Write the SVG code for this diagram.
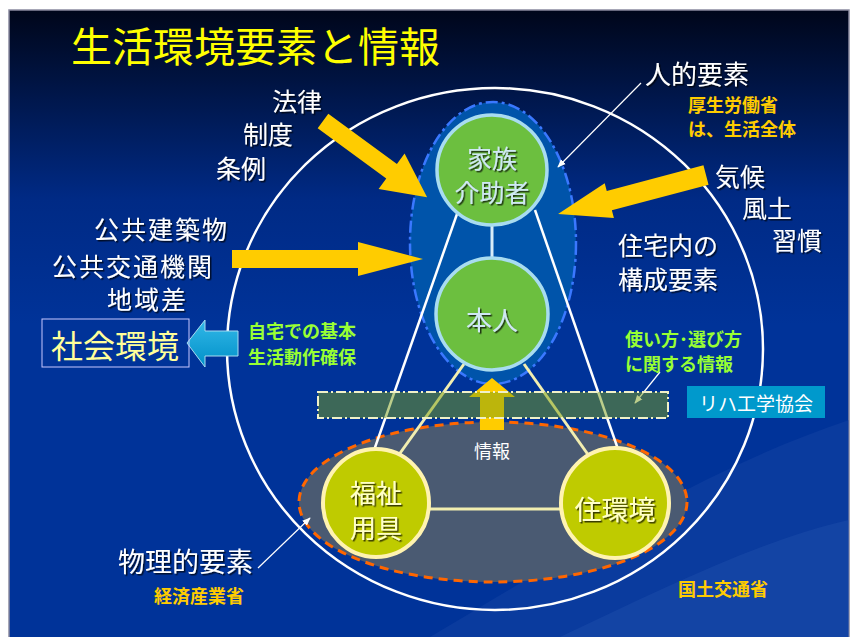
<svg xmlns="http://www.w3.org/2000/svg" width="851" height="637" viewBox="0 0 851 637">
<defs>
<linearGradient id="bg" x1="0" y1="0" x2="0" y2="1">
<stop offset="0" stop-color="#00061a"/>
<stop offset="0.3" stop-color="#002a85"/>
<stop offset="0.5" stop-color="#003399"/>
<stop offset="1" stop-color="#003399"/>
</linearGradient>
<linearGradient id="blueArrow" x1="0" y1="0" x2="0" y2="1">
<stop offset="0" stop-color="#33b8e8"/>
<stop offset="1" stop-color="#0090c8"/>
</linearGradient>
<filter id="sh" x="-20%" y="-20%" width="140%" height="140%">
<feDropShadow dx="1.5" dy="1.5" stdDeviation="0.6" flood-color="#000000" flood-opacity="0.7"/>
</filter>
<marker id="thin" viewBox="0 0 10 10" refX="9" refY="5" markerWidth="7" markerHeight="7" orient="auto">
<path d="M0,1 L10,5 L0,9 Z" fill="#ffffff"/>
</marker>
<style>
text{font-family:"Noto Sans CJK JP","Noto Sans CJK SC",sans-serif;dominant-baseline:central}
.w{fill:#ffffff;font-size:25px}
.g{fill:#99ff33;font-size:18px;font-weight:bold}
.o{fill:#ffcc00;font-size:18px;font-weight:bold}
.ya{fill:#ffcc00}
.wl{stroke:#ffffff;stroke-width:2.5;fill:none}
.bl{stroke:#d8ecf8;stroke-width:3;fill:none}
.pl{stroke:#f2eeb0;stroke-width:3;fill:none}
.ptr{stroke:#ffffff;stroke-width:1.2;fill:none;marker-end:url(#thin)}
</style>
</defs>

<rect x="0" y="0" width="851" height="637" fill="#ffffff"/>
<rect x="9" y="10" width="840" height="630" fill="url(#bg)" stroke="#8a8aa0" stroke-width="1.5"/>
<path d="M430,637 C560,560 700,470 849,420 L849,637 Z" fill="#1e4aa8" opacity="0.35"/>
<path d="M560,637 C660,590 760,540 849,520 L849,637 Z" fill="#2a58b4" opacity="0.3"/>

<text x="71" y="44" style="fill:#ffff00;font-size:41px">生活環境要素と情報</text>

<g id="outer-circle"><ellipse cx="495" cy="349" rx="268" ry="261" fill="none" stroke="#ffffff" stroke-width="2.5"/></g>

<g id="physical-area"><ellipse cx="493" cy="502" rx="194" ry="80" fill="#4a5a72" stroke="#ff6600" stroke-width="3" stroke-dasharray="9,6"/></g>
<g id="human-area"><ellipse cx="493" cy="243" rx="83" ry="141" fill="#0054aa" stroke="#3a78ff" stroke-width="2.5" stroke-dasharray="12,4,3,4"/></g>

<g id="connectors">
<line class="bl" x1="492" y1="225" x2="492" y2="258"/>
<line class="wl" x1="457" y1="214" x2="372" y2="456"/>
<line class="wl" x1="535" y1="210" x2="620" y2="455"/>
<line class="pl" x1="464" y1="364" x2="398" y2="456"/>
<line class="pl" x1="524" y1="364" x2="589" y2="456"/>
<line class="pl" x1="430" y1="509" x2="560" y2="509"/>
<line class="ptr" x1="641" y1="83" x2="558" y2="167"/>
<line class="ptr" x1="660" y1="372" x2="635" y2="403"/>
<line class="ptr" x1="258" y1="568" x2="310" y2="518"/>
</g>

<g id="kazoku">
<circle cx="492" cy="170" r="55" fill="#6cbf3f" stroke="#a8dcf0" stroke-width="3.5"/>
<text x="492" y="157" text-anchor="middle" filter="url(#sh)" style="fill:#cfe8f4;font-size:25px">家族</text>
<text x="492" y="191" text-anchor="middle" filter="url(#sh)" style="fill:#cfe8f4;font-size:25px">介助者</text>
</g>
<g id="honnin">
<circle cx="492" cy="314" r="56" fill="#6cbf3f" stroke="#a8dcf0" stroke-width="3.5"/>
<text x="492" y="318" text-anchor="middle" filter="url(#sh)" style="fill:#cfe8f4;font-size:26px">本人</text>
</g>
<g id="fukushi">
<ellipse cx="376" cy="503" rx="53" ry="54" fill="#bfcb00" stroke="#fff3b0" stroke-width="4"/>
<text x="376" y="491" text-anchor="middle" filter="url(#sh)" style="fill:#ffffc8;font-size:26px">福祉</text>
<text x="376" y="526" text-anchor="middle" filter="url(#sh)" style="fill:#ffffc8;font-size:26px">用具</text>
</g>
<g id="jukankyo">
<ellipse cx="615" cy="503" rx="54" ry="55" fill="#bfcb00" stroke="#fff3b0" stroke-width="4"/>
<text x="615" y="508" text-anchor="middle" filter="url(#sh)" style="fill:#ffffc8;font-size:27px">住環境</text>
</g>

<g id="info-arrow">
<polygon class="ya" points="492,378 469,397 480,397 480,430 504,430 504,397 515,397"/>
</g>
<g id="band">
<rect x="318" y="392" width="350" height="26" fill="#7a9d17" fill-opacity="0.5" stroke="#f0f0c8" stroke-width="2" stroke-dasharray="10,3,2,3"/>
</g>
<text x="492" y="450" text-anchor="middle" style="fill:#ffffff;font-size:18px">情報</text>

<g id="riha">
<rect x="687" y="386" width="138" height="32" fill="#0099cc"/>
<text x="756" y="402" text-anchor="middle" style="fill:#ffffff;font-size:19px">リハ工学協会</text>
</g>

<g id="law">
<polygon class="ya" transform="translate(323,121) rotate(36.2)" points="0,-9 85,-9 85,-22 129,0 85,22 85,9 0,9"/>
<text class="w" x="272" y="100" filter="url(#sh)">法律</text>
<text class="w" x="243" y="133" filter="url(#sh)">制度</text>
<text class="w" x="216" y="167" filter="url(#sh)">条例</text>
</g>
<g id="public">
<polygon class="ya" transform="translate(232,259)" points="0,-9 126,-9 126,-17 191,0 126,17 126,9 0,9"/>
<text class="w" x="94" y="228" filter="url(#sh)" letter-spacing="2">公共建築物</text>
<text class="w" x="52" y="265" filter="url(#sh)" letter-spacing="2">公共交通機関</text>
<text class="w" x="107" y="298" filter="url(#sh)" letter-spacing="2">地域差</text>
</g>
<g id="climate">
<polygon class="ya" transform="translate(706,175) rotate(165.2)" points="0,-10 100,-10 100,-18 153,0 100,18 100,10 0,10"/>
<text class="w" x="715" y="175" filter="url(#sh)">気候</text>
<text class="w" x="742" y="207" filter="url(#sh)">風土</text>
<text class="w" x="772" y="239" filter="url(#sh)">習慣</text>
</g>
<g id="social">
<polygon points="187,343 205,320 205,331 238,331 238,356 205,356 205,367" fill="url(#blueArrow)" stroke="#a8dcf0" stroke-width="1"/>
<rect x="42" y="319" width="147" height="48" fill="none" stroke="#c8c8ff" stroke-width="1"/>
<text x="51" y="344" style="fill:#ffff99;font-size:32px">社会環境</text>
</g>

<g id="labels">
<text class="w" x="645" y="72" filter="url(#sh)" style="font-size:26px">人的要素</text>
<text class="o" x="688" y="104">厚生労働省</text>
<text class="o" x="688" y="128">は、生活全体</text>
<text class="w" x="618" y="244" filter="url(#sh)">住宅内の</text>
<text class="w" x="618" y="278" filter="url(#sh)">構成要素</text>
<text class="g" x="248" y="330">自宅での基本</text>
<text class="g" x="248" y="356">生活動作確保</text>
<text class="g" x="625" y="338">使い方･選び方</text>
<text class="g" x="625" y="363">に関する情報</text>
<text class="w" x="118" y="560" filter="url(#sh)" style="font-size:27px">物理的要素</text>
<text class="o" x="154" y="595">経済産業省</text>
<text class="o" x="678" y="588">国土交通省</text>
</g>
</svg>
